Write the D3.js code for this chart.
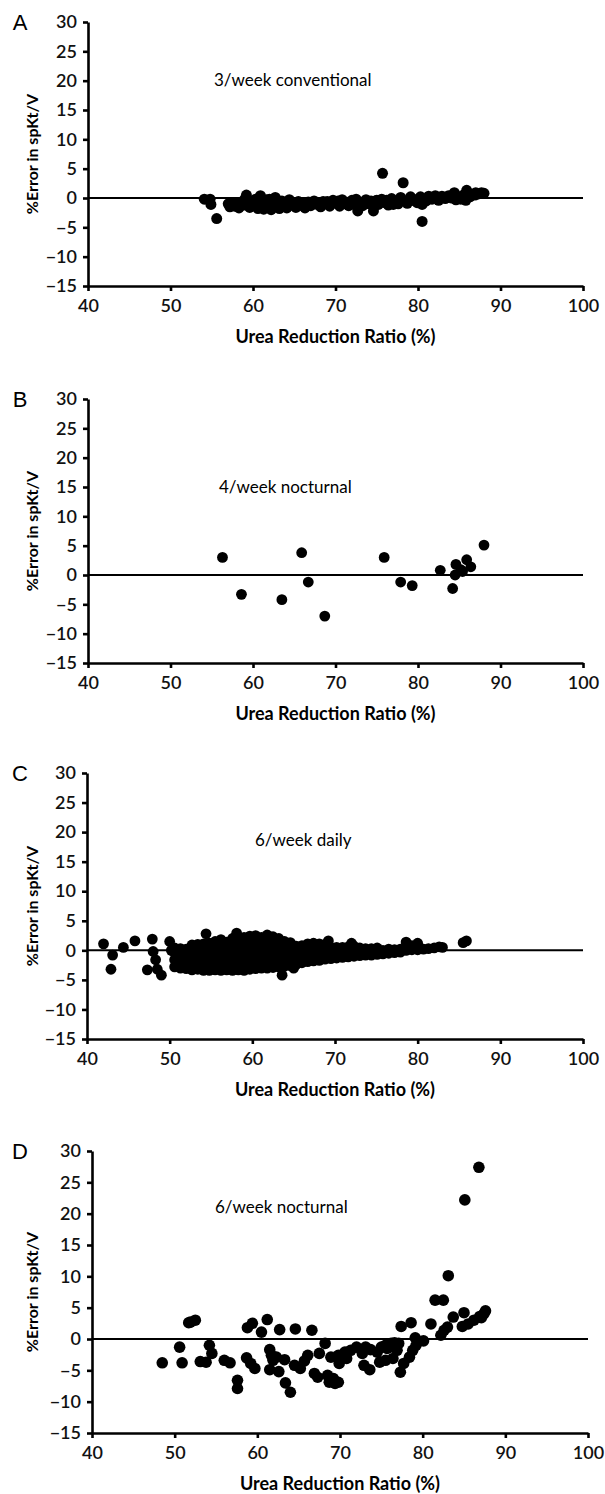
<!DOCTYPE html>
<html>
<head>
<meta charset="utf-8">
<script src="https://cdn.jsdelivr.net/npm/d3@7"></script>
<style>
  body { margin: 0; background: #fff; }
  svg { display: block; }
  .tick text { font-family: Lato, "Open Sans", sans-serif; font-size: 18px; font-weight: 600; fill: #111; }
  .tick line, .domain { stroke: #000; stroke-width: 2.6px; }
</style>
</head>
<body>
<svg width="605" height="1494"></svg>
<script>
// tick values shared by all four panels
var xTicks = [40, 50, 60, 70, 80, 90, 100];
var yTicks = [-15, -10, -5, 0, 5, 10, 15, 20, 25, 30];
var panelLetters = ["A", "B", "C", "D"];
var regimens = ["3/week conventional", "4/week nocturnal", "6/week daily", "6/week nocturnal"];
var xTitle = "Urea Reduction Ratio (%)";
var yTitle = "%Error in spKt/V";

// [urea reduction ratio, % error]
var pointsA = [
  [54.1,-0.2],[54.8,-0.2],[54.9,-1.1],[55.6,-3.5],
  [57.0,-1.0],[57.2,-1.5],[57.4,-0.9],[57.8,-1.4],[58.0,-0.9],[58.3,-1.7],[58.5,-0.8],[58.9,-1.2],
  [59.0,-0.2],[59.2,0.5],[59.4,-0.4],[59.6,-1.6],[60.0,-1.0],[60.2,-1.3],[60.3,-0.2],[60.6,-1.8],
  [60.9,0.4],[61.1,-0.8],[61.3,-1.9],[61.5,-1.0],[61.6,-0.3],[61.9,-1.4],[62.0,-0.2],[62.2,-2.0],
  [62.4,-0.6],[62.7,0.1],[62.9,-1.3],[63.0,-0.6],[63.2,-1.8],[63.5,-0.5],[63.8,-1.1],[64.0,-0.9],
  [64.1,-1.7],[64.4,-0.3],[64.8,-1.2],[65.0,-0.9],[65.2,-1.6],[65.5,-0.6],[65.9,-1.0],[66.0,-1.3],
  [66.3,-1.7],[66.7,-0.7],[67.0,-1.3],[67.2,-0.9],[67.4,-0.5],[67.8,-1.1],[68.0,-0.8],[68.2,-1.5],
  [68.5,-0.6],[68.9,-1.0],[69.0,-0.6],[69.3,-1.4],[69.7,-0.4],[70.1,-0.9],[70.3,-0.5],[70.5,-1.4],
  [70.8,-0.3],[71.0,-0.6],[71.2,-1.0],[71.6,-1.3],[72.0,-0.4],[72.3,-1.1],[72.5,-0.2],[72.7,-2.2],
  [72.9,-0.7],[73.3,-1.3],[73.5,-0.8],[73.7,-0.3],[74.1,-1.0],[74.3,-0.5],[74.6,-2.2],[74.8,-0.5],
  [75.0,-0.4],[75.2,-1.1],[75.6,-0.2],[75.7,4.2],[76.0,-0.8],[76.2,-0.4],[76.4,-1.2],[76.8,-0.1],
  [77.0,-1.1],[77.2,-0.7],[77.6,-1.0],[77.9,0.1],[78.0,-0.3],[78.2,2.6],[78.3,-0.5],[78.7,-0.9],
  [79.0,-0.5],[79.1,0.2],[79.5,-0.4],[79.9,-0.8],[80.0,-0.2],[80.3,0.2],[80.5,-1.1],[80.5,-4.0],
  [80.9,-0.3],[81.0,-0.5],[81.3,0.3],[81.7,-0.2],[82.1,0.4],[82.3,0.0],[82.5,-0.4],[82.9,0.3],
  [83.3,-0.1],[83.5,0.1],[83.7,0.4],[84.1,0.0],[84.4,0.9],[84.6,-0.3],[84.8,0.2],[85.2,-0.2],
  [85.5,0.5],[85.9,1.3],[85.8,-0.4],[86.0,0.8],[86.3,0.2],[86.9,0.5],[87.0,0.9],[87.3,0.7],
  [87.7,0.9],[88.0,0.8]
];

var pointsB = [
  [56.3,3.0],[58.6,-3.3],[63.5,-4.2],[65.9,3.8],[66.7,-1.2],[68.7,-7.0],[75.9,3.0],[77.9,-1.2],
  [79.3,-1.8],[82.7,0.8],[84.2,-2.3],[84.5,0.0],[84.6,1.8],[85.2,0.9],[85.4,0.6],[85.9,2.6],
  [86.4,1.4],[88.0,5.1]
];

var pointsC = [
  [42.0,1.1],[42.9,-3.2],[43.1,-0.8],[44.4,0.5],[45.8,1.6],[47.3,-3.3],[47.9,1.9],[48.0,-0.2],
  [48.3,-1.6],[48.5,-3.2],[49.0,-4.2],[50.0,1.5],[50.2,0.0],
  [50.6,-2.8],[50.6,-1.6],[50.6,-0.4],[50.6,0.4],
  [51.3,-3.0],[51.3,-1.8],[51.3,-0.6],[51.3,0.3],
  [52.0,-3.1],[52.0,-2.0],[52.0,-0.9],[52.0,0.2],
  [52.7,-3.3],[52.7,-2.1],[52.7,-1.0],[52.7,0.1],[52.7,0.9],
  [53.4,-3.2],[53.4,-2.2],[53.4,-1.1],[53.4,0.0],[53.4,1.0],
  [54.1,-3.4],[54.1,-2.3],[54.1,-1.2],[54.1,-0.1],[54.1,1.1],[54.4,2.8],
  [54.8,-3.4],[54.8,-2.2],[54.8,-1.1],[54.8,0.0],[54.8,1.2],
  [55.5,-3.3],[55.5,-2.2],[55.5,-1.0],[55.5,0.2],[55.5,1.5],
  [56.2,-3.4],[56.2,-2.3],[56.2,-1.2],[56.2,0.0],[56.2,1.2],[56.2,1.8],
  [56.9,-3.3],[56.9,-2.1],[56.9,-1.0],[56.9,0.2],[56.9,1.4],
  [57.6,-3.4],[57.6,-2.2],[57.6,-1.1],[57.6,0.1],[57.6,1.2],[57.6,2.0],[58.1,2.9],
  [58.3,-3.3],[58.3,-2.2],[58.3,-1.0],[58.3,0.2],[58.3,1.4],
  [59.0,-3.4],[59.0,-2.3],[59.0,-1.2],[59.0,0.0],[59.0,1.1],[59.0,2.2],
  [59.7,-3.2],[59.7,-2.1],[59.7,-1.0],[59.7,0.2],[59.7,1.3],[59.7,2.4],
  [60.4,-3.1],[60.4,-2.0],[60.4,-0.9],[60.4,0.2],[60.4,1.3],[60.4,2.5],
  [61.1,-3.0],[61.1,-1.9],[61.1,-0.8],[61.1,0.3],[61.1,1.4],[61.1,2.2],
  [61.8,-3.0],[61.8,-1.8],[61.8,-0.7],[61.8,0.4],[61.8,1.4],[61.8,2.6],
  [62.5,-2.9],[62.5,-1.8],[62.5,-0.7],[62.5,0.4],[62.5,1.5],[62.5,2.3],
  [63.2,-2.8],[63.2,-1.7],[63.2,-0.6],[63.2,0.4],[63.2,1.4],[63.2,2.0],[63.6,-4.2],
  [63.9,-2.7],[63.9,-1.6],[63.9,-0.5],[63.9,0.5],[63.9,1.5],
  [64.6,-2.6],[64.6,-1.5],[64.6,-0.4],[64.6,0.6],[64.6,1.3],[65.0,-3.0],
  [65.3,-2.4],[65.3,-1.3],[65.3,-0.3],[65.3,0.7],
  [66.0,-2.1],[66.0,-1.1],[66.0,-0.1],[66.0,0.8],
  [66.7,-1.9],[66.7,-0.9],[66.7,0.1],[66.7,1.1],
  [67.4,-1.8],[67.4,-0.8],[67.4,0.2],[67.4,1.2],
  [68.1,-1.7],[68.1,-0.7],[68.1,0.3],[68.1,1.1],
  [68.8,-1.5],[68.8,-0.5],[68.8,0.4],[68.8,1.0],[69.2,1.6],
  [69.5,-1.4],[69.5,-0.4],[69.5,0.5],
  [70.2,-1.3],[70.2,-0.4],[70.2,0.5],
  [70.9,-1.2],[70.9,-0.3],[70.9,0.5],
  [71.6,-1.1],[71.6,-0.2],[71.6,0.6],[72.0,1.2],
  [72.3,-1.0],[72.3,-0.2],[72.3,0.7],
  [73.0,-0.9],[73.0,-0.1],[73.0,0.4],
  [73.7,-0.8],[73.7,0.0],[73.7,0.3],
  [74.4,-0.8],[74.4,-0.1],[74.4,0.3],
  [75.1,-0.7],[75.1,0.0],[75.1,0.4],
  [75.8,-0.6],[75.8,0.0],[76.5,-0.5],[76.5,0.2],[77.2,-0.4],[77.2,0.1],[77.9,-0.3],[77.9,0.2],
  [78.6,0.0],[78.6,1.4],[79.3,0.1],[79.3,0.8],[80.0,0.1],[80.0,1.2],[80.7,0.2],[81.3,0.3],
  [82.0,0.4],[82.6,0.6],[83.0,0.5],[85.5,1.3],[85.9,1.6]
];

var pointsD = [
  [48.5,-3.8],[50.6,-1.3],[50.9,-3.8],[51.7,2.6],[51.9,2.7],[52.5,3.0],[53.1,-3.6],[53.8,-3.7],
  [54.2,-1.0],[54.5,-2.3],[56.0,-3.4],[56.7,-3.8],[57.6,-6.6],[57.6,-7.9],[58.7,-3.0],[58.8,1.8],
  [59.2,-3.9],[59.4,2.5],[59.7,-4.7],[60.5,1.1],[61.2,3.1],[61.5,-1.7],[61.5,-4.9],[61.7,-2.6],
  [61.9,-3.4],[62.3,-2.9],[62.6,-5.2],[62.7,1.5],[63.3,-3.3],[63.4,-7.0],[64.0,-8.5],[64.5,-4.2],
  [64.6,1.6],[65.2,-4.7],[65.7,-3.5],[66.1,-2.6],[66.6,1.4],[66.9,-5.5],[67.3,-6.1],[67.5,-2.3],
  [68.2,-0.7],[68.5,-5.8],[68.7,-6.9],[68.9,-2.9],[69.2,-6.3],[69.4,-7.1],[69.8,-6.9],[69.8,-2.6],
  [69.9,-3.9],[70.6,-2.1],[70.8,-3.1],[71.3,-1.8],[72.0,-1.3],[72.7,-2.3],[72.9,-4.2],[73.1,-1.3],
  [73.6,-4.9],[73.7,-1.7],[74.5,-2.1],[74.8,-3.7],[75.0,-1.3],[75.5,-3.4],[75.5,-1.0],[75.7,-1.5],
  [76.0,-1.3],[76.2,-0.7],[76.4,-3.1],[76.6,-0.6],[76.9,-1.8],[77.1,-0.7],[77.3,-5.3],[77.4,2.0],
  [77.7,-3.9],[78.4,-2.9],[78.6,2.6],[78.8,-1.8],[79.1,0.2],[79.2,-1.0],[80.1,-0.3],[81.0,2.4],
  [81.5,6.2],[82.2,0.6],[82.5,6.2],[82.6,1.4],[83.0,1.9],[83.1,10.1],[83.7,3.5],[84.8,2.0],
  [85.0,4.2],[85.1,22.2],[85.5,2.4],[86.2,3.0],[86.8,27.4],[86.9,3.6],[87.1,3.4],[87.4,4.0],
  [87.6,4.5]
];

var allPoints = [pointsA, pointsB, pointsC, pointsD];

// where each panel's plot area sits on the page
var layout = [
  { left: 88, right: 583, top: 22,   bottom: 286,  labelY: 80,   r: 5.5 },
  { left: 88, right: 583, top: 399,  bottom: 663,  labelY: 487,  r: 5.4 },
  { left: 87, right: 583, top: 773,  bottom: 1039, labelY: 840,  r: 5.4 },
  { left: 92, right: 588, top: 1151, bottom: 1433, labelY: 1207, r: 5.8 }
];
var labelX = [214, 219, 255, 215];

var svg = d3.select("svg");

layout.forEach(function (p, i) {
  var x = d3.scaleLinear().domain([40, 100]).range([p.left, p.right]);
  var y = d3.scaleLinear().domain([-15, 30]).range([p.bottom, p.top]);
  var g = svg.append("g").attr("class", "panel");

  // zero reference line
  g.append("line")
    .attr("x1", x(40)).attr("x2", x(100))
    .attr("y1", y(0)).attr("y2", y(0))
    .style("stroke", "#000").style("stroke-width", 2);

  g.append("g").attr("transform", "translate(0," + p.bottom + ")")
    .call(d3.axisBottom(x).tickValues(xTicks).tickSize(5).tickSizeOuter(0).tickPadding(8));

  g.append("g").attr("transform", "translate(" + p.left + ",0)")
    .call(d3.axisLeft(y).tickValues(yTicks).tickSize(5).tickSizeOuter(0).tickPadding(6));

  g.selectAll("circle").data(allPoints[i]).enter().append("circle")
    .attr("cx", function (d) { return x(d[0]); })
    .attr("cy", function (d) { return y(d[1]); })
    .attr("r", p.r)
    .style("fill", "#000");

  g.append("text")
    .attr("x", 20).attr("y", p.top + 8)
    .attr("text-anchor", "middle")
    .style("font-family", "'Liberation Sans', Arial, sans-serif")
    .style("font-size", "22px")
    .text(panelLetters[i]);

  g.append("text")
    .attr("x", labelX[i]).attr("y", p.labelY + 6)
    .style("font-family", "Lato, sans-serif")
    .style("font-size", "17px")
    .text(regimens[i]);

  g.append("text")
    .attr("x", (p.left + p.right) / 2).attr("y", p.bottom + 57)
    .attr("text-anchor", "middle")
    .style("font-family", "Lato, sans-serif")
    .style("font-size", "18px").style("font-weight", "bold")
    .text(xTitle);

  g.append("text")
    .attr("transform", "translate(38," + (p.top + p.bottom) / 2 + ") rotate(-90)")
    .attr("text-anchor", "middle")
    .style("font-family", "Lato, sans-serif")
    .style("font-size", "16px").style("font-weight", "bold")
    .text(yTitle);
});
</script>
</body>
</html>
